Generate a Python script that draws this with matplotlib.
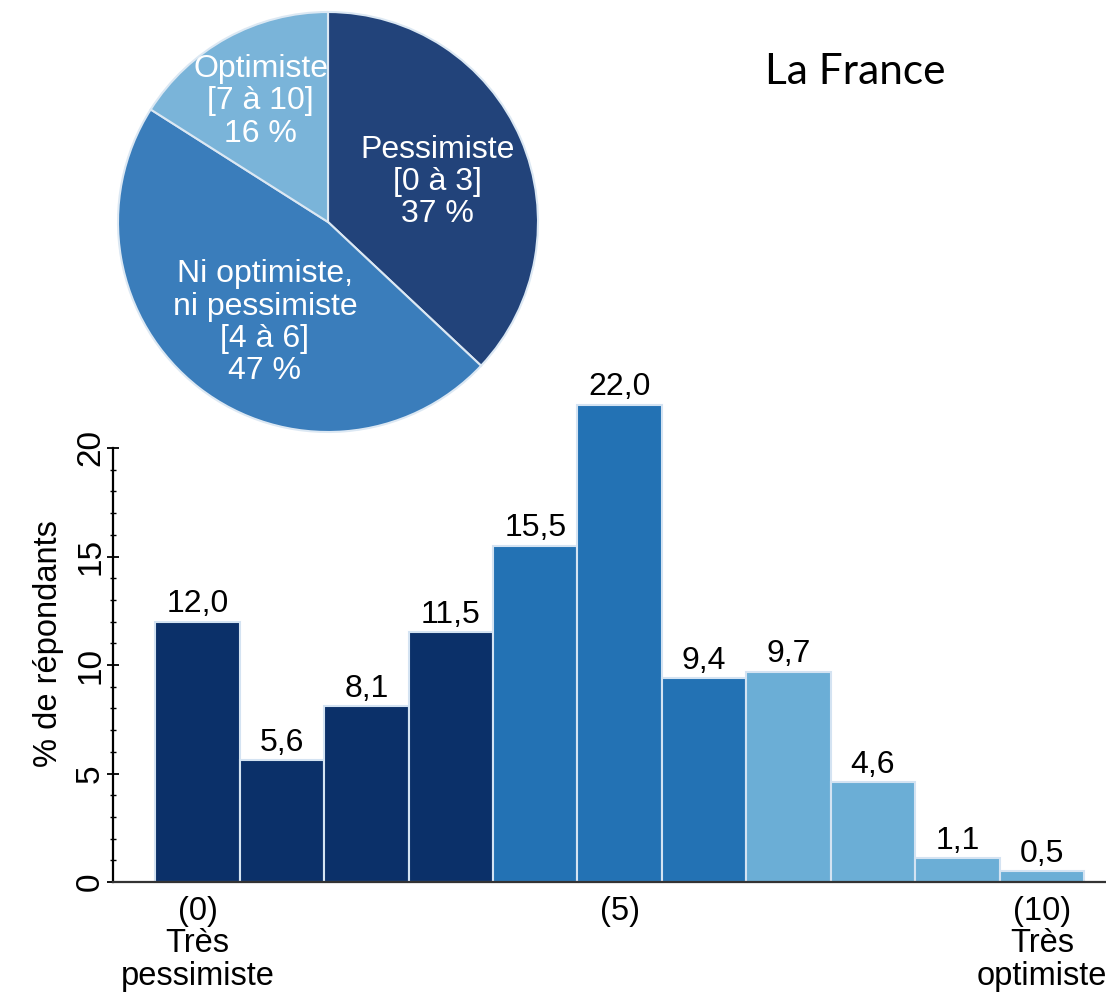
import matplotlib.pyplot as plt
from matplotlib.ticker import FixedLocator
import numpy as np

plt.rcParams['font.family'] = ['Liberation Sans', 'DejaVu Sans']

# scores 0..10 and share of respondents
scores = np.arange(0, 11)
values = [12.0, 5.6, 8.1, 11.5, 15.5, 22.0, 9.4, 9.7, 4.6, 1.1, 0.5]
groups = ['pess'] * 4 + ['ni'] * 3 + ['opt'] * 4

pie_labels = ['Pessimiste\n[0 à 3]\n37 %',
              'Ni optimiste,\nni pessimiste\n[4 à 6]\n47 %',
              'Optimiste\n[7 à 10]\n16 %']
pie_values = [37, 47, 16]

bar_colors = {'pess': '#0b3069', 'ni': '#2372b4', 'opt': '#6baed6'}
pie_colors = ['#22437a', '#3a7dbb', '#7ab4d9']

fig = plt.figure(figsize=(11.06, 9.93), dpi=100)
W, H = 1106, 993

# --- bar chart ---
ax = fig.add_axes([113 / W, 1 - 882 / H, (1106 - 113) / W, (882 - 404.6) / H])
ax.bar(scores, values, width=1.0, color=[bar_colors[g] for g in groups],
       edgecolor='#d4e3f2', linewidth=1.5, clip_on=False, zorder=2)
for x, v in zip(scores, values):
    ax.text(x, v + 0.1, f'{v:.1f}'.replace('.', ','), ha='center', va='bottom',
            fontsize=23, clip_on=False)

ax.set_xlim(-1, 10.76)
ax.set_ylim(0, 22)
ax.spines['top'].set_visible(False)
ax.spines['right'].set_visible(False)
ax.spines['left'].set_bounds(0, 20)
ax.spines['left'].set_linewidth(1.6)
ax.spines['bottom'].set_linewidth(1.6)
ax.spines['bottom'].set_color('#333333')
ax.set_yticks([0, 5, 10, 15, 20])
ax.yaxis.set_minor_locator(FixedLocator([i for i in range(21) if i % 5]))
ax.set_yticklabels(['0', '5', '10', '15', '20'], rotation=90, va='center', fontsize=24)
ax.tick_params(axis='y', which='major', length=8, width=1.3, pad=1, direction='inout')
ax.tick_params(axis='y', which='minor', length=5, width=1.0, direction='inout')
ax.set_xticks([0, 5, 10])
ax.set_xticklabels(['(0)\nTrès\npessimiste', '(5)', '(10)\nTrès\noptimiste'],
                   fontsize=23.5, va='top', linespacing=1.06)
ax.tick_params(axis='x', length=0, pad=10)
ax.set_ylabel('% de répondants', fontsize=23.5, labelpad=8)

# --- pie ---
cx, cy, r = 328, 222, 210
pax = fig.add_axes([(cx - r) / W, 1 - (cy + r) / H, 2 * r / W, 2 * r / H])
pax.pie(pie_values, colors=pie_colors, startangle=90, counterclock=False,
        wedgeprops=dict(edgecolor='#dce8f3', linewidth=1.5))
pax.set_xlim(-1, 1)
pax.set_ylim(-1, 1)
pax.set_aspect('equal')
pax.axis('off')
label_pos = [(0.52, 0.19), (-0.30, -0.48), (-0.32, 0.575)]
for (lx, ly), txt in zip(label_pos, pie_labels):
    pax.text(lx, ly, txt, ha='center', va='center', color='white',
             fontsize=23, linespacing=1.1)

fig.text(855 / W, 1 - 72 / H, 'La France', ha='center', va='center',
         fontsize=30.5, family=['Lato', 'DejaVu Sans'])

fig.savefig('out.png', dpi=100)
